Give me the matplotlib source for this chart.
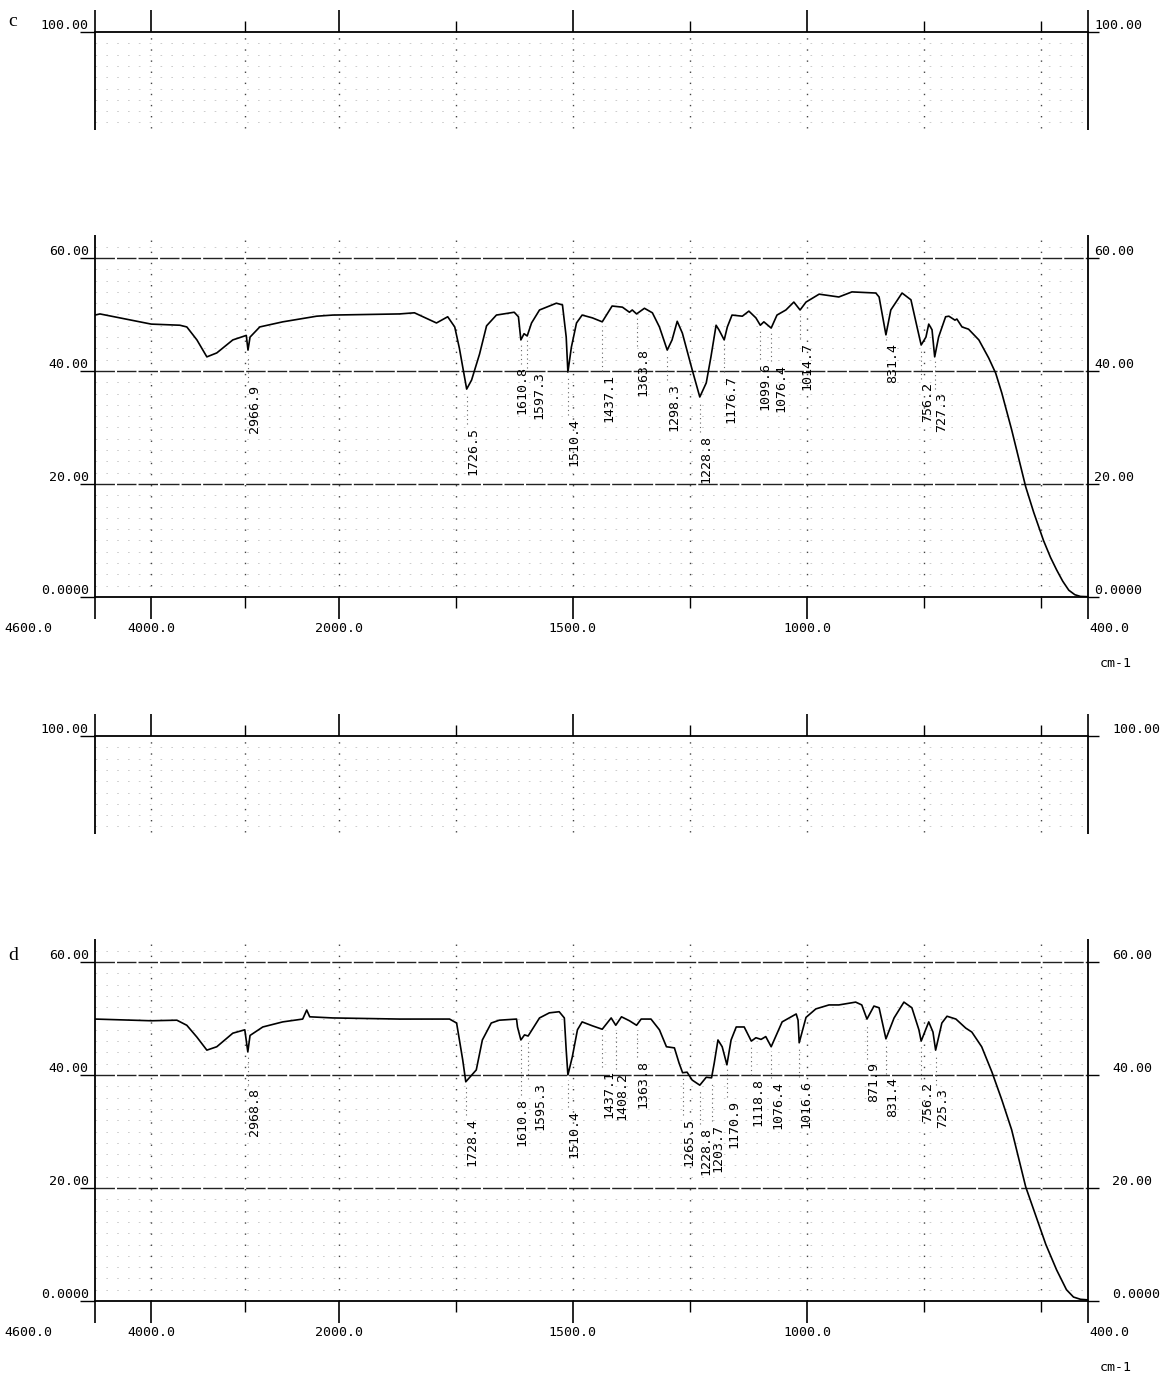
import numpy as np
import matplotlib
matplotlib.use("Agg")
import matplotlib.pyplot as plt
from matplotlib.transforms import ScaledTranslation

# -----------------------------
# data (wavenumber cm-1, %T)
# -----------------------------
c_wn = [4600, 4547, 4000, 3694, 3620, 3512, 3406, 3300, 3129, 2985, 2966.9, 2945,
        2841, 2596, 2234, 2063, 1870, 1838, 1791, 1767, 1752, 1742, 1726.5, 1716,
        1699, 1684, 1663, 1625, 1616, 1610.8, 1604, 1597.3, 1588, 1571, 1535, 1522,
        1514, 1510.4, 1503, 1492, 1480, 1458, 1437.1, 1416, 1394, 1379, 1373, 1363.8,
        1347, 1330, 1315, 1298.3, 1288, 1277, 1266, 1245, 1228.8, 1215, 1205, 1194,
        1188, 1176.7, 1170, 1160, 1138, 1124, 1109, 1099.6, 1092, 1076.4, 1064, 1045,
        1028, 1014.7, 1002, 974, 932, 904, 853, 846, 831.4, 821, 797, 778, 765, 756.2,
        746, 740, 733, 727.3, 719, 704, 697, 684, 680, 669, 655, 633, 612, 597, 584,
        563, 533, 516, 495, 480, 467, 454, 441, 428, 416, 400]
c_t = [49.9, 50.1, 48.3, 48.1, 47.8, 45.5, 42.5, 43.2, 45.5, 46.3, 43.7, 46.0,
       47.8, 48.7, 49.7, 49.9, 50.1, 50.3, 48.5, 49.6, 47.8, 44.0, 36.8, 38.4,
       43.0, 48.0, 49.9, 50.4, 49.6, 45.5, 46.6, 46.2, 48.5, 50.8, 52.0, 51.7,
       46.0, 39.8, 44.2, 48.5, 49.9, 49.4, 48.7, 51.5, 51.3, 50.4, 50.8, 50.1,
       51.1, 50.3, 47.8, 43.7, 45.5, 48.8, 46.7, 40.2, 35.4, 37.9, 42.5, 48.1,
       47.3, 45.5, 47.8, 49.9, 49.7, 50.6, 49.4, 48.1, 48.7, 47.6, 49.9, 50.8,
       52.2, 50.8, 52.2, 53.6, 53.1, 54.0, 53.8, 53.1, 46.4, 50.8, 53.8, 52.6, 47.8, 44.6,
       46.0, 48.3, 47.3, 42.5, 46.0, 49.6, 49.7, 49.0, 49.2, 47.8, 47.4, 45.5, 42.3, 39.6, 36.1,
       29.6, 19.5, 15.0, 10.0, 7.0, 4.8, 2.8, 1.2, 0.4, 0.1, 0.05]

d_wn = [4600, 4000, 3726, 3620, 3512, 3406, 3300, 3129, 3001, 2968.8, 2945, 2809,
        2596, 2383, 2340, 2308, 2063, 1870, 1763, 1748, 1735, 1728.4, 1706, 1693,
        1674, 1657, 1620, 1618, 1610.8, 1603, 1595.3, 1571, 1550, 1529, 1518, 1514,
        1510.4, 1501, 1490, 1480, 1458, 1437.1, 1418, 1408.2, 1396, 1379, 1363.8,
        1354, 1333, 1315, 1300, 1283, 1273, 1265.5, 1256, 1245, 1228.8, 1215, 1203.7,
        1198, 1190, 1181, 1170.9, 1162, 1151, 1134, 1118.8, 1109, 1098, 1088, 1076.4,
        1053, 1038, 1023, 1019, 1016.6, 1002, 981, 953, 932, 896, 883, 871.9, 857,
        846, 831.4, 814, 793, 776, 761, 756.2, 740, 731, 725.3, 712, 701, 682, 661,
        648, 627, 605, 584, 563, 533, 490, 467, 446, 431, 416, 400]
d_t = [49.9, 49.6, 49.7, 48.8, 46.7, 44.4, 45.0, 47.4, 48.0, 44.1, 47.0, 48.5,
       49.4, 49.9, 51.5, 50.3, 50.1, 49.9, 49.9, 49.2, 42.7, 38.8, 40.9, 46.2,
       49.2, 49.7, 49.9, 48.5, 46.2, 47.1, 46.9, 50.1, 51.0, 51.2, 50.1, 44.4,
       40.0, 43.2, 48.0, 49.4, 48.7, 48.1, 50.1, 48.8, 50.3, 49.6, 48.8,
       49.9, 49.9, 48.0, 45.0, 44.8, 42.1, 40.4, 40.5, 39.1, 38.2, 39.6, 39.5,
       42.1, 46.2, 45.0, 41.8, 46.2, 48.5, 48.5, 46.0, 46.6, 46.3, 46.8, 45.0,
       49.4, 50.1, 50.8, 49.7, 45.7, 50.2, 51.7, 52.4, 52.4, 52.9, 52.4, 49.9, 52.2,
       51.9, 46.4, 50.1, 52.9, 51.9, 48.0, 46.0, 49.4, 47.6, 44.4, 49.2, 50.4, 49.9, 48.3,
       47.6, 45.0, 40.5, 35.6, 30.3, 20.2, 10.0, 5.5, 2.0, 0.7, 0.3, 0.2]

# peak labels and the %T level where the top of each label sits
c_peaks = [2966.9, 1726.5, 1610.8, 1597.3, 1510.4, 1437.1, 1363.8, 1298.3,
           1228.8, 1176.7, 1099.6, 1076.4, 1014.7, 831.4, 756.2, 727.3]
c_label_top = [37.5, 30.1, 40.8, 40.0, 31.7, 39.5, 44.0, 37.9,
               28.7, 39.3, 41.6, 41.2, 45.1, 45.0, 38.0, 36.3]
d_peaks = [2968.8, 1728.4, 1610.8, 1595.3, 1510.4, 1437.1, 1408.2, 1363.8,
           1265.5, 1228.8, 1203.7, 1170.9, 1118.8, 1076.4, 1016.6, 871.9,
           831.4, 756.2, 725.3]
d_label_top = [37.7, 32.4, 35.9, 38.8, 33.8, 40.9, 40.5, 42.6,
               32.4, 30.8, 31.4, 35.6, 39.5, 39.0, 39.2, 42.3,
               39.6, 38.8, 37.7]

# labels that crowd a neighbour get a small sideways nudge (pixels)
c_nudge = {1610.8: -5, 1597.3: 5, 1099.6: -2, 1076.4: 3}
d_nudge = {1610.8: -5, 1595.3: 5}

y_ticks = [0, 20, 40, 60, 100]
y_ticklabels = ["0.0000", "20.00", "40.00", "60.00", "100.00"]
x_major = [4600, 4000, 2000, 1500, 1000, 400]
x_major_labels = ["", "4000.0", "2000.0", "1500.0", "1000.0", ""]
x_minor = [3000, 1750, 1250, 750, 500]
grid_wn = [4000, 3000, 2000, 1750, 1500, 1250, 1000, 750, 500]

plt.rcParams["font.family"] = ["DejaVu Sans Mono"]
plt.rcParams["font.size"] = 9.5


# -----------------------------
# wavenumber axis: 4600-2000 compressed 5x
# -----------------------------
def fwd(w):
    w = np.asarray(w, dtype=float)
    return np.where(w > 2000, 2000 + (w - 2000) / 5.0, w)


def inv(f):
    f = np.asarray(f, dtype=float)
    return np.where(f > 2000, 2000 + (f - 2000) * 5.0, f)


def draw_panel(ax, wn, t, peaks, tops, nudge, right_shift):
    ax.set_xscale("function", functions=(fwd, inv))
    ax.set_xlim(4600, 400)
    ax.set_ylim(0, 100)

    # faint scan rows, blank band between ~64 and ~83
    rows = np.concatenate([np.arange(2, 64, 2), np.arange(84, 100, 2)])
    ax.hlines(rows, 4600, 400, colors="#c4c4c4", lw=0.6,
              linestyles=(0, (2, 11)), zorder=1)

    # dotted column grid
    ax.vlines(grid_wn, 0, 64, colors="#444444", lw=1.0, linestyles=(0, (1, 7)), zorder=1)
    ax.vlines(grid_wn, 83, 100, colors="#444444", lw=1.0, linestyles=(0, (1, 7)), zorder=1)

    ax.hlines([20, 40, 60], 4600, 400, colors="#222222", lw=1.0,
              linestyles=(0, (14, 1.5)), zorder=2)

    # broken left / right frame
    for lo, hi in [(0, 64), (82.7, 100)]:
        ax.vlines([4600, 400], lo, hi, colors="black", lw=1.3, clip_on=False, zorder=3)
    for s in ["left", "right"]:
        ax.spines[s].set_visible(False)
    for s in ["top", "bottom"]:
        ax.spines[s].set_linewidth(1.3)

    ax.plot(wn, t, color="black", lw=1.2, zorder=4)

    # peak markers and labels
    peak_vals = np.interp(peaks, wn[::-1], t[::-1])
    for p, pv, top in zip(peaks, peak_vals, tops):
        ax.vlines(p, top + 0.5, pv - 0.8, colors="#666666", lw=0.8,
                  linestyles=(0, (1, 3)), zorder=2)
        ax.annotate(f"{p:.1f}", xy=(p, top), xytext=(nudge.get(p, 0), 0),
                    textcoords="offset pixels", rotation=90, ha="left", va="top",
                    fontsize=9.5, zorder=5)

    ax.set_xticks(x_major, x_major_labels)
    ax.set_xticks(x_minor, minor=True)
    ax.tick_params(axis="x", which="major", direction="out", length=16, width=1.2,
                   top=True, bottom=True, pad=2)
    ax.tick_params(axis="x", which="minor", direction="out", length=8, width=1.0,
                   top=True, bottom=True)

    ax.set_yticks(y_ticks, y_ticklabels)
    ax.tick_params(axis="y", which="major", direction="out", width=1.0, pad=1,
                   left=True, right=True, labelleft=True, labelright=True)
    shift = ScaledTranslation(right_shift / 100, 0, ax.figure.dpi_scale_trans)
    for tk in ax.yaxis.get_major_ticks():
        tk.tick1line.set_markersize(11)
        tk.tick2line.set_markersize(8)
        tk.label1.set_va("bottom")
        tk.label2.set_va("bottom")
        tk.label2.set_transform(tk.label2.get_transform() + shift)

    ax.annotate("4600.0", xy=(0, 0), xycoords="axes fraction", xytext=(-43, -25),
                textcoords="offset pixels", ha="right", va="top")
    ax.annotate("400.0", xy=(1, 0), xycoords="axes fraction", xytext=(1, -25),
                textcoords="offset pixels", ha="left", va="top")
    ax.annotate("cm-1", xy=(1, 0), xycoords="axes fraction", xytext=(12, -60),
                textcoords="offset pixels", ha="left", va="top")


fig = plt.figure(figsize=(11.62, 13.74), dpi=100)
ax_c = fig.add_axes([95 / 1162, 1 - 597 / 1374, 993 / 1162, 565 / 1374])
ax_d = fig.add_axes([95 / 1162, 1 - 1301 / 1374, 993 / 1162, 565 / 1374])

draw_panel(ax_c, np.array(c_wn), np.array(c_t), c_peaks, c_label_top, c_nudge, 0)
draw_panel(ax_d, np.array(d_wn), np.array(d_t), d_peaks, d_label_top, d_nudge, 18)

fig.text(8 / 1162, 1 - 22 / 1374, "c", family=["Liberation Serif"], fontsize=14, va="center")
fig.text(8 / 1162, 1 - 955 / 1374, "d", family=["Liberation Serif"], fontsize=14, va="center")

fig.savefig("out.png", dpi=100, facecolor="white")
